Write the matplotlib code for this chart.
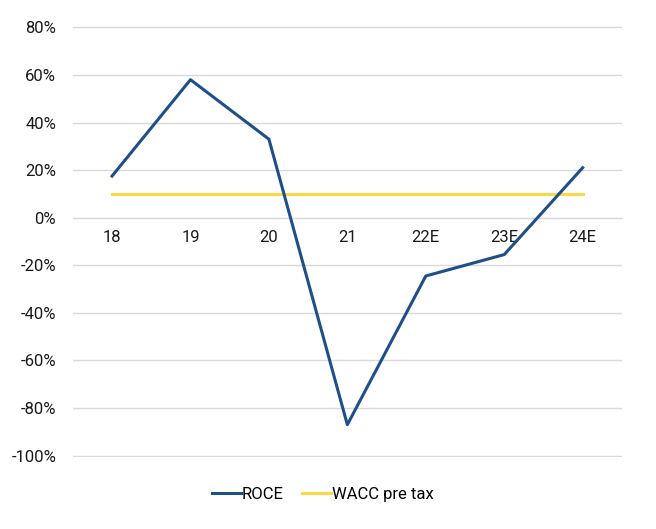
import matplotlib.pyplot as plt
import matplotlib.ticker as mticker

plt.rcParams['font.family'] = ['Roboto', 'DejaVu Sans']

years = ["18", "19", "20", "21", "22E", "23E", "24E"]
roce = [17.5, 58, 33, -87, -24.5, -15.5, 21]
wacc = [10, 10, 10, 10, 10, 10, 10]

fig = plt.figure(figsize=(6.56, 5.29), dpi=100)
ax = fig.add_axes([0.111, 0.136, 0.837, 0.815])

x = range(len(years))
ax.plot(x, roce, color="#1f4f8a", lw=2.2, label="ROCE", zorder=3)
ax.plot(x, wacc, color="#fad84a", lw=2.2, label="WACC pre tax", zorder=2)

ax.set_ylim(-100.6, 80.6)
ax.set_xlim(-0.5, 6.5)
ax.set_yticks(range(-100, 81, 20))
ax.yaxis.set_major_formatter(mticker.FuncFormatter(lambda v, p: f"{v:.0f}%"))
ax.set_xticks(list(x))
ax.set_xticklabels(years)

ax.grid(axis="y", color="#d9d9d9", lw=1)
ax.set_axisbelow(True)
for s in ["top", "right", "left"]:
    ax.spines[s].set_visible(False)
ax.spines["bottom"].set_position(("data", 0))
ax.spines["bottom"].set_color("#d9d9d9")
ax.tick_params(axis="both", length=0, labelsize=12, colors="#1a1a1a")
ax.tick_params(axis="x", pad=9)
ax.tick_params(axis="y", pad=12)

ax.legend(loc="upper center", bbox_to_anchor=(0.455, -0.035), ncol=2, frameon=False,
          fontsize=12, handlelength=1.75, handletextpad=0.05, columnspacing=1.1)

fig.savefig("out.png", dpi=100)
